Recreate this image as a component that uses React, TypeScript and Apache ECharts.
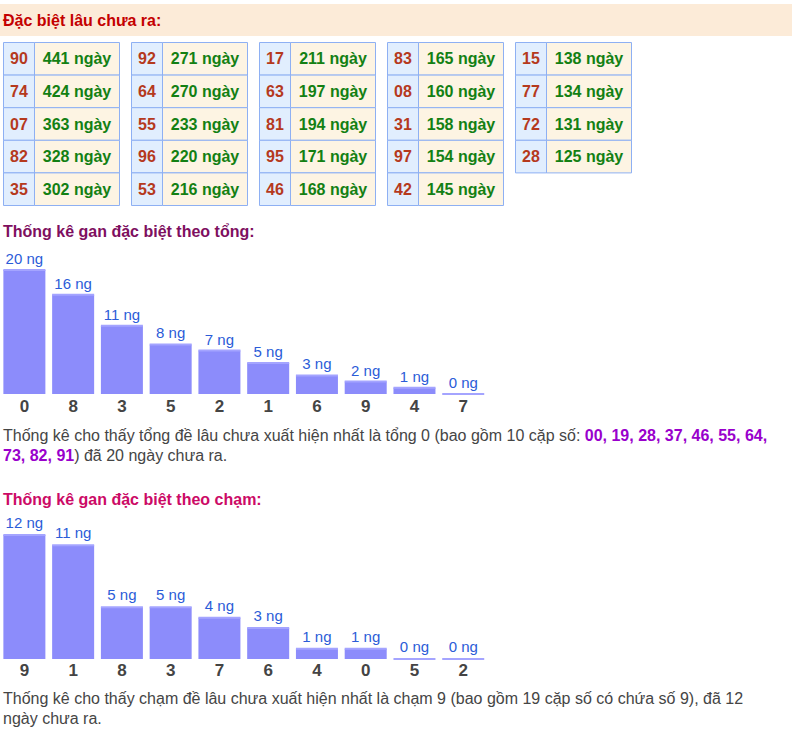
import React, { useEffect, useRef } from "react";
import * as echarts from "echarts";

// ---- data ----
const ganNumbers = ["90", "74", "07", "82", "35", "92", "64", "55", "96", "53", "17", "63", "81", "95", "46", "83", "08", "31", "97", "42", "15", "77", "72", "28"];
const ganDays = [441, 424, 363, 328, 302, 271, 270, 233, 220, 216, 211, 197, 194, 171, 168, 165, 160, 158, 154, 145, 138, 134, 131, 125];

const tongCategories = ["0", "8", "3", "5", "2", "1", "6", "9", "4", "7"];
const tongValues = [20, 16, 11, 8, 7, 5, 3, 2, 1, 0];

const chamCategories = ["9", "1", "8", "3", "7", "6", "4", "0", "5", "2"];
const chamValues = [12, 11, 5, 5, 4, 3, 1, 1, 0, 0];

const tongPairs = ["00", "19", "28", "37", "46", "55", "64", "73", "82", "91"];

const FONT = "'Liberation Sans', Arial, sans-serif";

export default function App() {
  const ref = useRef<HTMLDivElement>(null);

  useEffect(() => {
    if (!ref.current) return;
    const chart = echarts.init(ref.current, null, { renderer: "svg" });

    const graphics: any[] = [];
    // header bar
    graphics.push({
      type: "rect",
      shape: { x: 0, y: 4, width: 792, height: 32 },
      style: { fill: "#fcebd8" },
    });
    graphics.push({
      type: "text",
      x: 3,
      y: 20.5,
      style: {
        text: "Đặc biệt lâu chưa ra:",
        fontFamily: FONT,
        fontSize: 16,
        fontWeight: "bold",
        fill: "#c40000",
        align: "left",
        verticalAlign: "middle",
      },
    });

    // tables
    const rowsPerTable = 5;
    const rowH = 32.6;
    ganNumbers.forEach((num, i) => {
      const t = Math.floor(i / rowsPerTable);
      const r = i % rowsPerTable;
      const x0 = 3.5 + 128 * t;
      const y0 = 42.5 + rowH * r;
      graphics.push({
        type: "rect",
        shape: { x: x0, y: y0, width: 31, height: rowH },
        style: { fill: "#e1eefe", stroke: "#8eb0f3", lineWidth: 1 },
      });
      graphics.push({
        type: "rect",
        shape: { x: x0 + 31, y: y0, width: 85, height: rowH },
        style: { fill: "#fdf4e3", stroke: "#8eb0f3", lineWidth: 1 },
      });
      graphics.push({
        type: "text",
        x: x0 + 15.5,
        y: y0 + rowH / 2,
        style: {
          text: num,
          fontFamily: FONT,
          fontSize: 16,
          fontWeight: "bold",
          fill: "#b5391d",
          align: "center",
          verticalAlign: "middle",
        },
      });
      graphics.push({
        type: "text",
        x: x0 + 31 + 42.5,
        y: y0 + rowH / 2,
        style: {
          text: ganDays[i] + " ngày",
          fontFamily: FONT,
          fontSize: 16,
          fontWeight: "bold",
          fill: "#138013",
          align: "center",
          verticalAlign: "middle",
        },
      });
    });

    // headings
    graphics.push({
      type: "text",
      x: 3,
      y: 231.8,
      style: {
        text: "Thống kê gan đặc biệt theo tổng:",
        fontFamily: FONT,
        fontSize: 16,
        fontWeight: "bold",
        fill: "#7e0f5f",
        align: "left",
        verticalAlign: "middle",
      },
    });
    graphics.push({
      type: "text",
      x: 3,
      y: 499.5,
      style: {
        text: "Thống kê gan đặc biệt theo chạm:",
        fontFamily: FONT,
        fontSize: 16,
        fontWeight: "bold",
        fill: "#cc0a66",
        align: "left",
        verticalAlign: "middle",
      },
    });

    const richStyles = {
      n: { fontFamily: FONT, fontSize: 16, fill: "#454545" },
      b: { fontFamily: FONT, fontSize: 16, fontWeight: "bold", fill: "#9900cc" },
    };
    const firstPairs = tongPairs.slice(0, 7).join(", ") + ",";
    const restPairs = tongPairs.slice(7).join(", ");
    graphics.push({
      type: "text",
      x: 3,
      y: 435.2,
      style: {
        text:
          "{n|Thống kê cho thấy tổng đề lâu chưa xuất hiện nhất là tổng " +
          tongCategories[0] +
          " (bao gồm " +
          tongPairs.length +
          " cặp số: }{b|" +
          firstPairs +
          "}",
        rich: richStyles,
        fill: "#454545",
        fontFamily: FONT,
        fontSize: 16,
        align: "left",
        verticalAlign: "middle",
      },
    });
    graphics.push({
      type: "text",
      x: 3,
      y: 455.2,
      style: {
        text: "{b|" + restPairs + "}{n|) đã " + tongValues[0] + " ngày chưa ra.}",
        rich: richStyles,
        fill: "#454545",
        fontFamily: FONT,
        fontSize: 16,
        align: "left",
        verticalAlign: "middle",
      },
    });
    graphics.push({
      type: "text",
      x: 3,
      y: 698.8,
      style: {
        text:
          "Thống kê cho thấy chạm đề lâu chưa xuất hiện nhất là chạm " +
          chamCategories[0] +
          " (bao gồm 19 cặp số có chứa số " +
          chamCategories[0] +
          "), đã " +
          chamValues[0],
        fontFamily: FONT,
        fontSize: 16,
        fill: "#454545",
        align: "left",
        verticalAlign: "middle",
      },
    });
    graphics.push({
      type: "text",
      x: 3,
      y: 718.8,
      style: {
        text: "ngày chưa ra.",
        fontFamily: FONT,
        fontSize: 16,
        fill: "#454545",
        align: "left",
        verticalAlign: "middle",
      },
    });

    const barColor = "#8c8cfb";
    const topColor = "#a4a4ff";
    const labelColor = "#2b5cd8";

    const makeX = (idx: number, data: string[], margin: number) => ({
      type: "category",
      gridIndex: idx,
      data,
      axisLine: { show: false },
      axisTick: { show: false },
      splitLine: { show: false },
      axisLabel: {
        fontFamily: FONT,
        fontSize: 17,
        fontWeight: "bold",
        color: "#444444",
        margin,
        interval: 0,
      },
    });
    const makeY = (idx: number, max: number) => ({
      type: "value",
      gridIndex: idx,
      min: 0,
      max,
      show: false,
      splitLine: { show: false },
    });
    const makeBar = (idx: number, data: number[], dist: number) => ({
      type: "bar",
      xAxisIndex: idx,
      yAxisIndex: idx,
      data,
      barWidth: 42,
      itemStyle: { color: barColor },
      label: {
        show: true,
        position: "top",
        distance: dist,
        formatter: "{c} ng",
        fontFamily: FONT,
        fontSize: 15,
        color: labelColor,
      },
      z: 2,
    });
    const makeTop = (idx: number, data: number[]) => ({
      type: "pictorialBar",
      xAxisIndex: idx,
      yAxisIndex: idx,
      data,
      symbol: "rect",
      symbolSize: [42, 2],
      symbolPosition: "end",
      symbolOffset: [0, "-50%"],
      itemStyle: { color: topColor },
      z: 3,
    });

    chart.setOption({
      animation: false,
      backgroundColor: "#ffffff",
      grid: [
        { left: -0.4, top: 270, width: 488, height: 124 },
        { left: -0.4, top: 535, width: 488, height: 124 },
      ],
      xAxis: [makeX(0, tongCategories, 4), makeX(1, chamCategories, 3)],
      yAxis: [makeY(0, tongValues[0]), makeY(1, chamValues[0])],
      series: [
        makeBar(0, tongValues, 4),
        makeTop(0, tongValues),
        makeBar(1, chamValues, 5),
        makeTop(1, chamValues),
      ],
      graphic: graphics,
    });

    return () => chart.dispose();
  }, []);

  return (
    <div
      ref={ref}
      style={{ position: "absolute", left: 0, top: 0, width: 792, height: 736, background: "#ffffff" }}
    />
  );
}
